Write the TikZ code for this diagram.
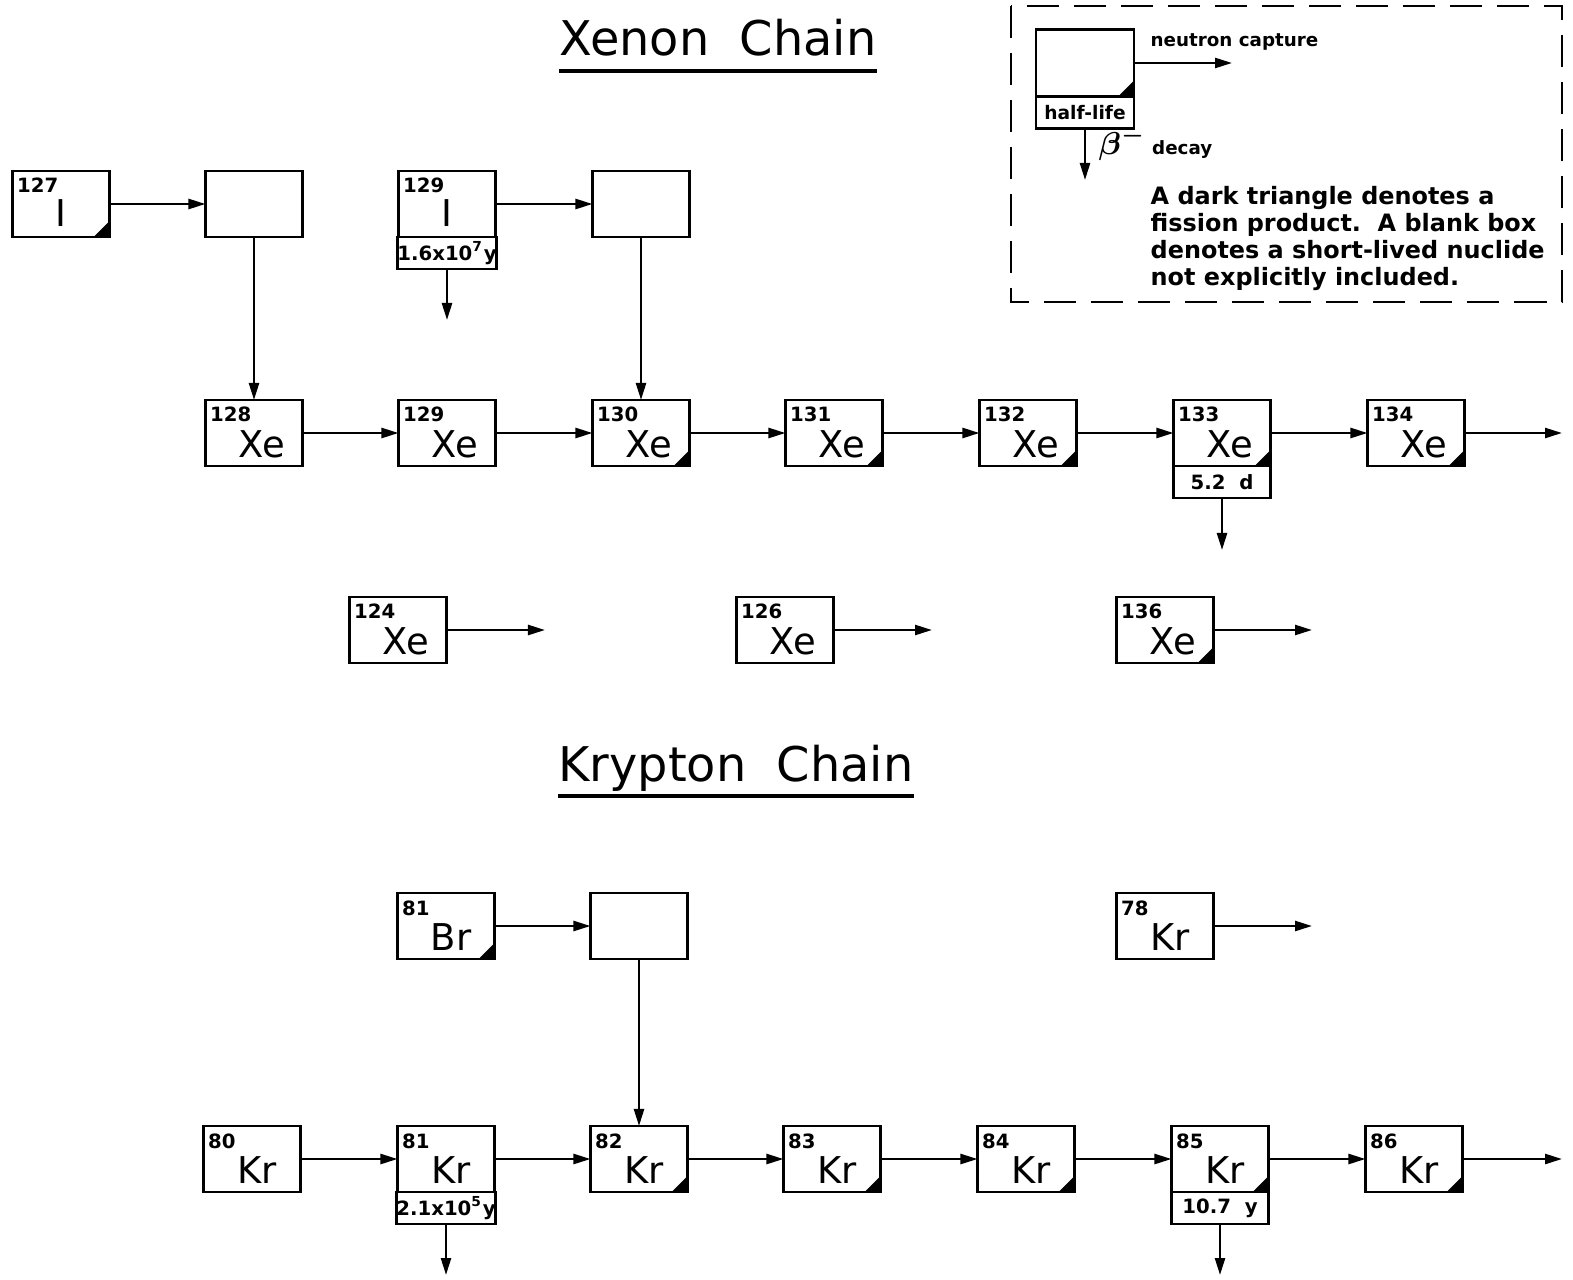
\documentclass[tikz,border=0pt]{standalone}
\usepackage{fontspec}
\setmainfont{DejaVu Sans}
\usetikzlibrary{arrows.meta}

\begin{document}
\begin{tikzpicture}[x=0.01cm, y=-0.01cm, >={Triangle[length=0.17cm,width=0.1cm]},
    nuc/.style={draw, line width=0.8pt, minimum width=0.97cm, minimum height=0.66cm, inner sep=0pt, outer sep=0pt},
    fp/.style={path picture={\fill (path picture bounding box.south east) -- ++(-0.16cm,0pt) -- ++(0.16cm,0.16cm) -- cycle;}},
    hl/.style={draw, line width=0.8pt, minimum width=0.97cm, minimum height=0.32cm, inner sep=0pt, outer sep=0pt, anchor=north, font=\fontsize{5.6}{6}\selectfont\bfseries},
    mass/.style={anchor=base west, inner sep=0pt, font=\fontsize{5.6}{6}\selectfont\bfseries},
    sym/.style={anchor=base, inner sep=0pt, font=\fontsize{10.5}{12}\selectfont},
    title/.style={anchor=base, inner sep=0pt, text depth=0pt, font=\fontsize{13.6}{16}\selectfont},
    small/.style={anchor=base west, inner sep=0pt, font=\fontsize{5.2}{6}\selectfont\bfseries},
    link/.style={->, line width=0.7pt}]
    \useasboundingbox (0,0) rectangle (1573,1279);

    % Titles
    \node[title] (xtitle) at (718,56) {Xenon\ \ Chain};
    \draw[line width=1.1pt] ([yshift=-0.14cm]xtitle.south west) -- ([yshift=-0.14cm]xtitle.south east);
    \node[title] (ktitle) at (736,781) {Krypton\ \ Chain};
    \draw[line width=1.1pt] ([yshift=-0.14cm]ktitle.south west) -- ([yshift=-0.14cm]ktitle.south east);

    % Key
    \draw[dash pattern=on 0.32cm off 0.15cm, line width=0.7pt] (1011,6) rectangle (1562,302);
    \node[nuc, fp, minimum width=0.98cm, minimum height=0.67cm] (key) at (1085,63) {};
    \node[hl, minimum width=0.98cm, font=\fontsize{5.3}{6}\selectfont\bfseries] (keyh) at (key.south) {half-life};
    \coordinate (keyn) at (1232,63);
    \draw[link] (key) -- (keyn);
    \node[small] (ncap) at (1150,47) {neutron capture};
    \coordinate (keyd) at (1085,180);
    \draw[link] (keyh) -- (keyd);
    \node[small] (bdec) at (1098,155) {{\fontsize{9}{9}\selectfont\boldmath$\beta^-$}\ decay};
    \node[anchor=north west, inner sep=0pt, align=left, font=\fontsize{6.8}{7.6}\selectfont\bfseries] (note) at (1150,186)
        {A dark triangle denotes a\\ fission product.\ \ A blank box\\ denotes a short-lived nuclide\\ not explicitly included.};

    % Iodine and short-lived boxes
    \node[nuc, fp] (i127) at (61,204) {};
    \node[mass] at ([xshift=0.04cm,yshift=-0.22cm]i127.north west) {127};
    \node[sym] at ([yshift=-0.22cm]i127.center) {I};
    \node[nuc] (b1) at (254,204) {};
    \node[nuc] (i129) at (447,204) {};
    \node[mass] at ([xshift=0.04cm,yshift=-0.22cm]i129.north west) {129};
    \node[sym] at ([yshift=-0.22cm]i129.center) {I};
    \node[hl] (i129h) at (i129.south) {1.6x10\textsuperscript{7}y};
    \node[nuc] (b2) at (641,204) {};
    \draw[link] (i127) -- (b1);
    \draw[link] (i129) -- (b2);
    \coordinate (i129d) at (447,320);
    \draw[link] (i129h) -- (i129d);

    % Xenon row
    \foreach \a/\x/\f in {128/254/, 129/447/, 130/641/fp, 131/834/fp, 132/1028/fp, 133/1222/fp, 134/1416/fp} {
        \node[nuc,\f] (xe\a) at (\x,433) {};
        \node[mass] at ([xshift=0.04cm,yshift=-0.22cm]xe\a.north west) {\a};
        \node[sym] at ([xshift=0.08cm,yshift=-0.24cm]xe\a.center) {Xe};
    }
    \foreach \a/\b in {128/129, 129/130, 130/131, 131/132, 132/133, 133/134}
        \draw[link] (xe\a) -- (xe\b);
    \draw[link] (b1) -- (xe128);
    \draw[link] (b2) -- (xe130);
    \coordinate (xeout) at (1562,433);
    \draw[link] (xe134) -- (xeout);
    \node[hl] (xe133h) at (xe133.south) {5.2\ \ d};
    \coordinate (xe133d) at (1222,550);
    \draw[link] (xe133h) -- (xe133d);

    % Other xenon isotopes
    \foreach \a/\x/\f in {124/398/, 126/785/, 136/1165/fp} {
        \node[nuc,\f] (xe\a) at (\x,630) {};
        \node[mass] at ([xshift=0.04cm,yshift=-0.22cm]xe\a.north west) {\a};
        \node[sym] at ([xshift=0.08cm,yshift=-0.24cm]xe\a.center) {Xe};
        \coordinate (xe\a o) at (\x+147,630);
        \draw[link] (xe\a) -- (xe\a o);
    }

    % Bromine, short-lived box and krypton 78
    \node[nuc, fp] (br81) at (446,926) {};
    \node[mass] at ([xshift=0.04cm,yshift=-0.22cm]br81.north west) {81};
    \node[sym] at ([xshift=0.05cm,yshift=-0.24cm]br81.center) {Br};
    \node[nuc] (b3) at (639,926) {};
    \draw[link] (br81) -- (b3);
    \node[nuc] (kr78) at (1165,926) {};
    \node[mass] at ([xshift=0.04cm,yshift=-0.22cm]kr78.north west) {78};
    \node[sym] at ([xshift=0.05cm,yshift=-0.24cm]kr78.center) {Kr};
    \coordinate (kr78o) at (1312,926);
    \draw[link] (kr78) -- (kr78o);

    % Krypton row
    \foreach \a/\x/\f in {80/252/, 81/446/, 82/639/fp, 83/832/fp, 84/1026/fp, 85/1220/fp, 86/1414/fp} {
        \node[nuc,\f] (kr\a) at (\x,1159) {};
        \node[mass] at ([xshift=0.04cm,yshift=-0.22cm]kr\a.north west) {\a};
        \node[sym] at ([xshift=0.05cm,yshift=-0.24cm]kr\a.center) {Kr};
    }
    \foreach \a/\b in {80/81, 81/82, 82/83, 83/84, 84/85, 85/86}
        \draw[link] (kr\a) -- (kr\b);
    \draw[link] (b3) -- (kr82);
    \coordinate (krout) at (1562,1159);
    \draw[link] (kr86) -- (krout);
    \node[hl] (kr81h) at (kr81.south) {2.1x10\textsuperscript{5}y};
    \node[hl] (kr85h) at (kr85.south) {10.7\ \ y};
    \coordinate (kr81d) at (446,1275);
    \coordinate (kr85d) at (1220,1275);
    \draw[link] (kr81h) -- (kr81d);
    \draw[link] (kr85h) -- (kr85d);
\end{tikzpicture}
\end{document}
